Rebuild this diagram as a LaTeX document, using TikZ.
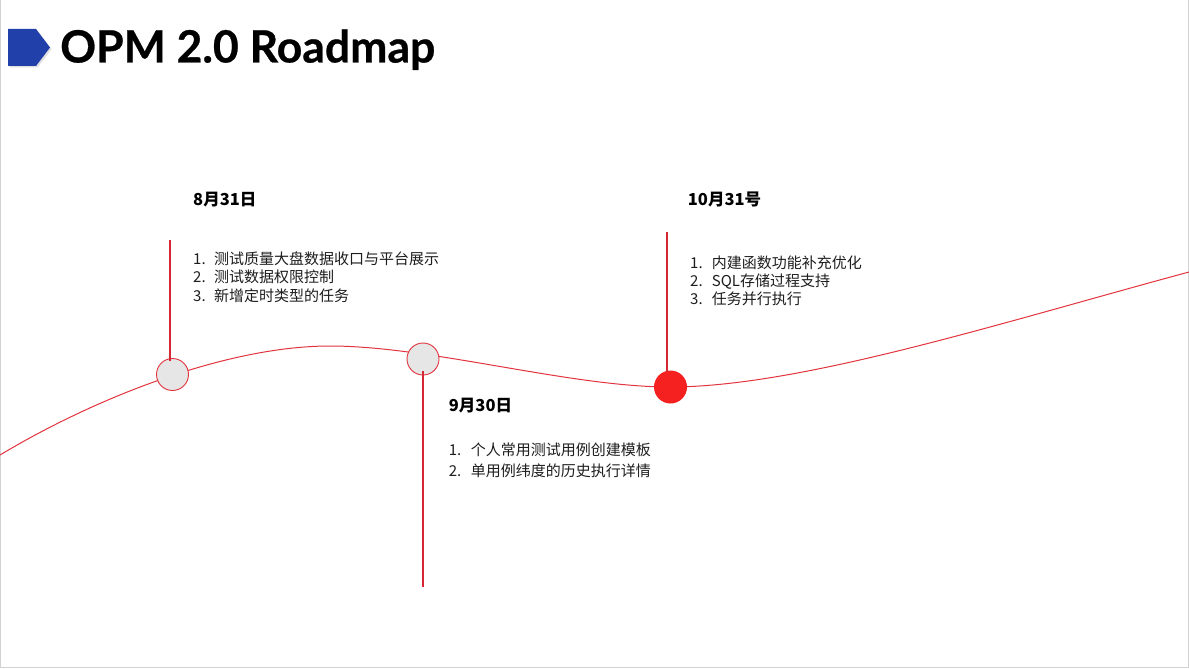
\documentclass[tikz,border=0pt]{standalone}
\usepackage{fontspec}
\setmainfont{Noto Sans CJK SC}
\newfontfamily\titlefont[BoldFeatures={FakeBold=0.6}]{Lato}
\usetikzlibrary{shadows}
\definecolor{iconblue}{RGB}{33,64,170}
\definecolor{linered}{RGB}{214,40,52}
\definecolor{curvered}{RGB}{226,52,62}
\definecolor{dotred}{RGB}{245,32,32}
\definecolor{dotgray}{RGB}{230,230,230}
\definecolor{framegray}{RGB}{210,210,210}
\definecolor{txt}{RGB}{30,30,30}
\begin{document}
\begin{tikzpicture}[x=1pt,y=-1pt,
  milestone/.style={circle, draw=curvered, line width=0.9pt, fill=dotgray, minimum size=32pt, inner sep=0pt},
  current/.style={circle, fill=dotred, minimum size=33pt, inner sep=0pt},
  stem/.style={draw=linered, line width=2.2pt},
  datelabel/.style={anchor=base west, font=\fontsize{16.5}{18}\selectfont\bfseries, text=black, inner sep=0pt},
  itemA/.style={anchor=base west, font=\fontsize{15}{17}\selectfont, text=txt, inner sep=0pt},
  itemB/.style={anchor=base west, font=\fontsize{15}{17}\selectfont, text=txt, inner sep=0pt},
  ]
\useasboundingbox (0,0) rectangle (1189,669);
\fill[white] (0,0) rectangle (1189,669);
\draw[framegray, line width=1pt] (0.5,0) -- (0.5,667.5) -- (1188,667.5) -- (1188,0);

% title
\fill[iconblue, drop shadow={shadow xshift=1.5pt, shadow yshift=-1.5pt, opacity=0.25}]
  (8,29) -- (36,29) -- (50,47.5) -- (36,66) -- (8,66) -- cycle;
\node[anchor=base west, font=\titlefont\fontsize{44.5}{48}\selectfont\bfseries, inner sep=0pt] (title) at (60,62.5) {OPM 2.0 Roadmap};

% timeline curve
\draw[curvered, line width=1pt] (0,455) .. controls (100,395) and (230,346) .. (330,346)
  .. controls (430,346) and (570,387) .. (670,387)
  .. controls (800,387) and (1000,323) .. (1189,272);

% milestones
\node[milestone] (c1) at (172.5,374.5) {};
\node[milestone] (c2) at (423,359) {};
\node[current] (c3) at (670.5,387) {};

% stems
\coordinate (s1) at (170,240);
\coordinate (e2) at (423,587);
\coordinate (s3) at (667,232);
\draw[stem] (s1) -- ([yshift=-3pt]s1 |- c1.north);
\draw[stem] ([yshift=-12pt]c2.center) -- (e2);
\draw[stem] (s3) -- ([yshift=-2pt]s3 |- c3.north);

% dates
\node[datelabel] (d1) at (193,205) {8月31日};
\node[datelabel] (d2) at (448.7,411.8) {9月30日};
\node[datelabel] (d3) at (687.7,205.3) {10月31号};

% lists
\node[itemA] (a1) at (193,264) {\makebox[21pt][l]{1.}测试质量大盘数据收口与平台展示};
\node[itemA] (a2) at (193,282.4) {\makebox[21pt][l]{2.}测试数据权限控制};
\node[itemA] (a3) at (193,301.2) {\makebox[21pt][l]{3.}新增定时类型的任务};

\node[itemB] (b1) at (448.7,455.7) {\makebox[22pt][l]{1.}个人常用测试用例创建模板};
\node[itemB] (b2) at (448.7,476.2) {\makebox[22pt][l]{2.}单用例纬度的历史执行详情};

\node[itemB] (g1) at (690,268.4) {\makebox[21.7pt][l]{1.}内建函数功能补充优化};
\node[itemB] (g2) at (690,286.5) {\makebox[21.7pt][l]{2.}SQL存储过程支持};
\node[itemB] (g3) at (690,304.5) {\makebox[21.7pt][l]{3.}任务并行执行};
\end{tikzpicture}
\end{document}
